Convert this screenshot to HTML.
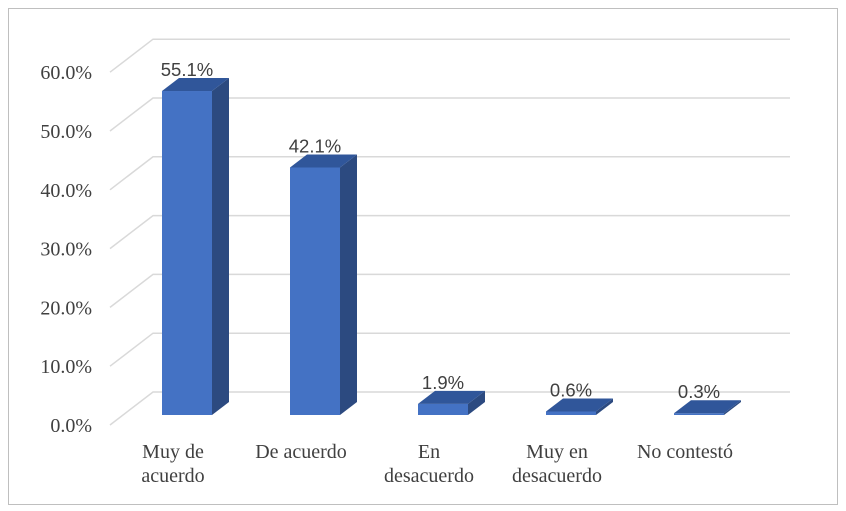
<!DOCTYPE html>
<html><head><meta charset="utf-8"><style>
body{margin:0;background:#fff}
svg{display:block}
.t{font-family:"Liberation Serif",serif;font-size:20px;fill:#404040}
.v{font-family:"Liberation Sans",sans-serif;font-size:18.5px;fill:#404040}
</style></head><body>
<svg id="c" width="846" height="511">
<rect x="8.5" y="8.5" width="829" height="496" fill="#fff" stroke="#bfbfbf"/>
<g id="grid"></g>
<g id="yax"></g>
<g id="bars"></g>
<g id="xax"></g>
</svg>
<script>
const categories=[["Muy de","acuerdo"],["De acuerdo"],["En","desacuerdo"],["Muy en","desacuerdo"],["No contestó"]];
const values=[55.1,42.1,1.9,0.6,0.3];
const valueLabels=["55.1%","42.1%","1.9%","0.6%","0.3%"];
const yTicks=[0,10,20,30,40,50,60];
const yTickLabels=["0.0%","10.0%","20.0%","30.0%","40.0%","50.0%","60.0%"];
const NS="http://www.w3.org/2000/svg";
function mk(tag,at,p){const e=document.createElementNS(NS,tag);for(const k in at)e.setAttribute(k,at[k]);p.appendChild(e);return e;}
const base=415,per=5.88,dx=17,dy=-13;
function yFront(v){return base-v*per;}
function xBar(i){return 162+i*128;}
const grid=document.getElementById('grid'),yax=document.getElementById('yax'),bars=document.getElementById('bars'),xax=document.getElementById('xax');
yTicks.forEach((t,i)=>{
 const yb=392-t*per, yf=yb+33;
 const l=mk('polyline',{points:`110,${yf} 153,${yb} 790,${yb}`,fill:'none',stroke:'#d9d9d9','stroke-width':1.5},grid);
 
 
 const tx=mk('text',{x:92,y:yf+7,'text-anchor':'end',class:'t'},yax);tx.textContent=yTickLabels[i];
 
 
});
values.forEach((v,i)=>{
 const x=xBar(i),w=50,yt=yFront(v);
 const g=mk('g',{},bars);
 
 
 mk('rect',{x:x,y:yt,width:w,height:base-yt,fill:'#4472c4'},g);
 mk('polygon',{points:`${x+w},${yt} ${x+w+dx},${yt+dy} ${x+w+dx},${base+dy} ${x+w},${base}`,fill:'#2c4a80'},g);
 mk('polygon',{points:`${x},${yt} ${x+dx},${yt+dy} ${x+w+dx},${yt+dy} ${x+w},${yt}`,fill:'#30569a'},g);
 const t=mk('text',{x:x+w/2,y:yt+dy-2,'text-anchor':'middle',class:'v'},g);t.textContent=valueLabels[i];
 
 
 const c=mk('text',{x:x+11,y:458,'text-anchor':'middle',class:'t'},xax);
 
 
 categories[i].forEach((s,j)=>{const ts=mk('tspan',{x:x+11,dy:j?24:0},c);ts.textContent=s;});
});
</script>
</body></html>
